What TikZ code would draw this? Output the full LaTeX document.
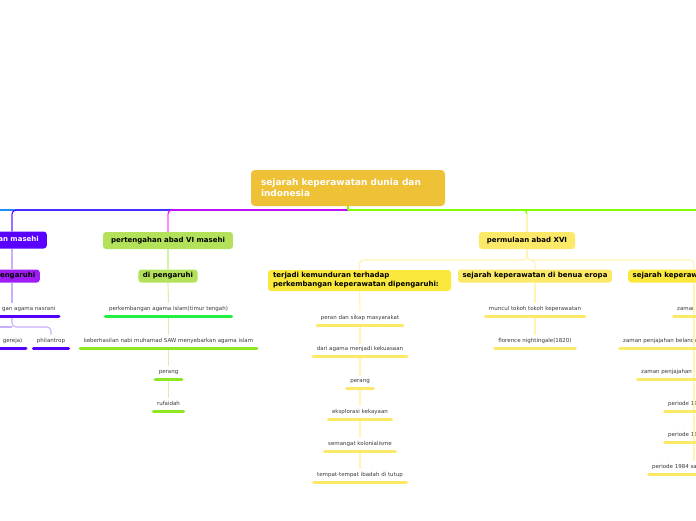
\documentclass[tikz,border=0pt]{standalone}
\usepackage{fontspec}
\setmainfont{DejaVu Sans}
\definecolor{rootc}{HTML}{EEC137}
\definecolor{blueL}{HTML}{1E8CFF}
\definecolor{purpL}{HTML}{5500FF}
\definecolor{purpV}{HTML}{9A70FF}
\definecolor{purpP}{HTML}{C8AEFF}
\definecolor{purpBox}{HTML}{5A00FF}
\definecolor{violBox}{HTML}{A01EF5}
\definecolor{magL}{HTML}{FF00FF}
\definecolor{magV}{HTML}{FF88FF}
\definecolor{greenL}{HTML}{80FF00}
\definecolor{limeBox}{HTML}{B3E25A}
\definecolor{limeP}{HTML}{D6F2A6}
\definecolor{brightG}{HTML}{22F040}
\definecolor{ygreen}{HTML}{8CE820}
\definecolor{yelBox}{HTML}{FDE968}
\definecolor{yelBox2}{HTML}{FBE83C}
\definecolor{yelP}{HTML}{FFF3B5}
\definecolor{yelBar}{HTML}{FDE968}
\definecolor{itemc}{HTML}{3A3A3A}
\tikzset{
  conn/.style={line width=1.1pt},
  rootbox/.style={rounded corners=4pt, fill=rootc, text=white,
    font=\fontsize{9}{11}\selectfont\bfseries, text width=174pt, align=left,
    inner xsep=10pt, inner ysep=0pt, minimum height=36pt},
  cbox/.style={rounded corners=3pt, font=\fontsize{7}{9}\selectfont\bfseries,
    inner xsep=8pt, inner ysep=0pt, minimum height=17pt, text height=5.2pt, text depth=1.5pt},
  sbox/.style={cbox, inner xsep=4.5pt, minimum height=13pt},
  item/.style={font=\fontsize{5.5}{6.5}\selectfont, text=itemc, inner xsep=3.5pt,
    inner ysep=3.5pt, text height=4.5pt, text depth=1.5pt, anchor=south},
  bar/.style={line width=3pt, line cap=round, draw=#1}
}
\begin{document}
\begin{tikzpicture}[x=1pt,y=-1pt]
\useasboundingbox (0,0) rectangle (696,520);
\clip (0,0) rectangle (696,520);
\fill[white] (0,0) rectangle (696,520);

% root
\node[rootbox] (root) at (348,188) {sejarah keperawatan dunia dan\\indonesia};
\coordinate (hub) at (348,210);
\coordinate (offL) at (-40,210);
\coordinate (offR) at (740,210);
\coordinate (kx) at (12,0);
\coordinate (kr) at (694,0);

% children
\node[cbox, fill=purpBox, text=white, anchor=east] (c1) at (47,240) {an masehi};
\node[cbox, fill=limeBox] (c2) at (168,240.5) {pertengahan abad VI masehi};
\node[cbox, fill=yelBox] (c3) at (527,240.5) {permulaan abad XVI};

% root connectors
\draw[conn, blueL] (hub) -- (offL);
\draw[conn, purpL, rounded corners=4pt] (hub) -| (c1.north -| kx);
\draw[conn, purpV] (kx |- 0,214) -- (c1.north -| kx);
\draw[conn, magL, rounded corners=4pt] (hub) -| (c2.north);
\draw[conn, magV] (168,214) -- (c2.north);
\draw[conn, greenL] (hub) -- (offR);
\draw[conn, greenL, rounded corners=4pt] (hub) -| (c3.north);
\draw[conn, yelP] (527,214) -- (c3.north);
\draw[conn, greenL] (root.south) -- (hub);

% ---- column 1 (left, cropped)
\node[sbox, fill=violBox, text=black, anchor=east] (s1) at (40,276) {pengaruhi};
\node[item, anchor=south east] (i11) at (59,316) {gan agama nasrani};
\node[item, anchor=south east] (i12) at (26,348) {gereja)};
\node[item] (i13) at (51,348) {philantrop};
\coordinate (br) at (12,327);
\coordinate (brL) at (-30,327);
\draw[conn, purpP] (c1.south -| kx) -- (s1.north -| kx);
\draw[conn, purpP] (s1.south -| kx) -- (i11.north -| kx);
\draw[conn, purpP, rounded corners=4pt] (i11.south -| kx) -- (br) -| (i13.north);
\draw[conn, purpP] (br) -- (brL);
\draw[bar=purpL] (i11.south west) -- (i11.south east);
\draw[bar=purpL] (i12.south west) -- (i12.south east);
\draw[bar=purpL] (i13.south west) -- (i13.south east);

% ---- column 2
\node[sbox, fill=limeBox] (s2) at (168,276) {di pengaruhi};
\node[item] (i21) at (168.5,316) {perkembangan agama islam(timur tengah)};
\node[item] (i22) at (168.5,348) {keberhasilan nabi muhamad SAW menyebarkan agama islam};
\node[item] (i23) at (168.5,379) {perang};
\node[item] (i24) at (168.5,411) {rufaidah};
\draw[conn, limeP] (c2.south) -- (s2.north);
\draw[conn, limeP] (s2.south) -- (i21.north);
\draw[conn, limeP] (i21.south) -- (i22.north);
\draw[conn, limeP] (i22.south) -- (i23.north);
\draw[conn, limeP] (i23.south) -- (i24.north);
\draw[bar=brightG] (i21.south west) -- (i21.south east);
\draw[bar=ygreen] (i22.south west) -- (i22.south east);
\draw[bar=ygreen] (i23.south west) -- (i23.south east);
\draw[bar=ygreen] (i24.south west) -- (i24.south east);

% ---- column 3
\node[sbox, fill=yelBox2, text width=173pt, align=left, inner xsep=5pt,
      font=\fontsize{7}{9}\selectfont\bfseries, text height=, text depth=, minimum height=21pt]
      (s31) at (359.5,280.5) {terjadi kemunduran terhadap\\perkembangan keperawatan dipengaruhi:};
\node[sbox, fill=yelBox] (s32) at (535,276) {sejarah keperawatan di benua eropa};
\node[sbox, fill=yelBox2, anchor=west] (s33) at (628,276) {sejarah keperaw};
\coordinate (jn) at (527,260);
\draw[conn, yelP, rounded corners=4pt] (c3.south) -- (jn) -| (s31.north);
\draw[conn, yelP, rounded corners=4pt] (c3.south) -- (jn) -| (s32.north);
\draw[conn, yelP, rounded corners=4pt] (c3.south) -- (jn) -| (s33.north -| kr);

\node[item] (i31) at (360,325) {peran dan sikap masyarakat};
\node[item] (i32) at (360,356) {dari agama menjadi kekuasaan};
\node[item] (i33) at (360,388) {perang};
\node[item] (i34) at (360,419) {eksplorasi kekayaan};
\node[item] (i35) at (360,451) {semangat kolonialisme};
\node[item] (i36) at (360,482) {tempat-tempat ibadah di tutup};
\draw[conn, yelP] (s31.south) -- (i31.north);
\draw[conn, yelP] (i31.south) -- (i32.north);
\draw[conn, yelP] (i32.south) -- (i33.north);
\draw[conn, yelP] (i33.south) -- (i34.north);
\draw[conn, yelP] (i34.south) -- (i35.north);
\draw[conn, yelP] (i35.south) -- (i36.north);
\foreach \n in {i31,i32,i33,i34,i35,i36}
  \draw[bar=yelBar] (\n.south west) -- (\n.south east);

\node[item] (i41) at (535,316) {muncul tokoh tokoh keperawatan};
\node[item] (i42) at (535,348) {florence nightingale(1820)};
\draw[conn, yelP] (s32.south) -- (i41.north);
\draw[conn, yelP] (i41.south) -- (i42.north);
\draw[bar=yelBar] (i41.south west) -- (i41.south east);
\draw[bar=yelBar] (i42.south west) -- (i42.south east);

\node[item, anchor=south west] (i51) at (673.5,316) {zaman};
\node[item, anchor=south west] (i52) at (619.5,348) {zaman penjajahan belanda};
\node[item, anchor=south west] (i53) at (637.5,379) {zaman penjajahan j};
\node[item, anchor=south west] (i54) at (664.5,411) {periode 19};
\node[item, anchor=south west] (i55) at (664.5,442) {periode 19};
\node[item, anchor=south west] (i56) at (648.5,474) {periode 1984 sa};
\draw[conn, yelP] (s33.south -| kr) -- (i56.north -| kr);
\foreach \n in {i51,i52,i53,i54,i55,i56}
  \draw[bar=yelBar] (\n.south west) -- ++(80,0);
\end{tikzpicture}
\end{document}
